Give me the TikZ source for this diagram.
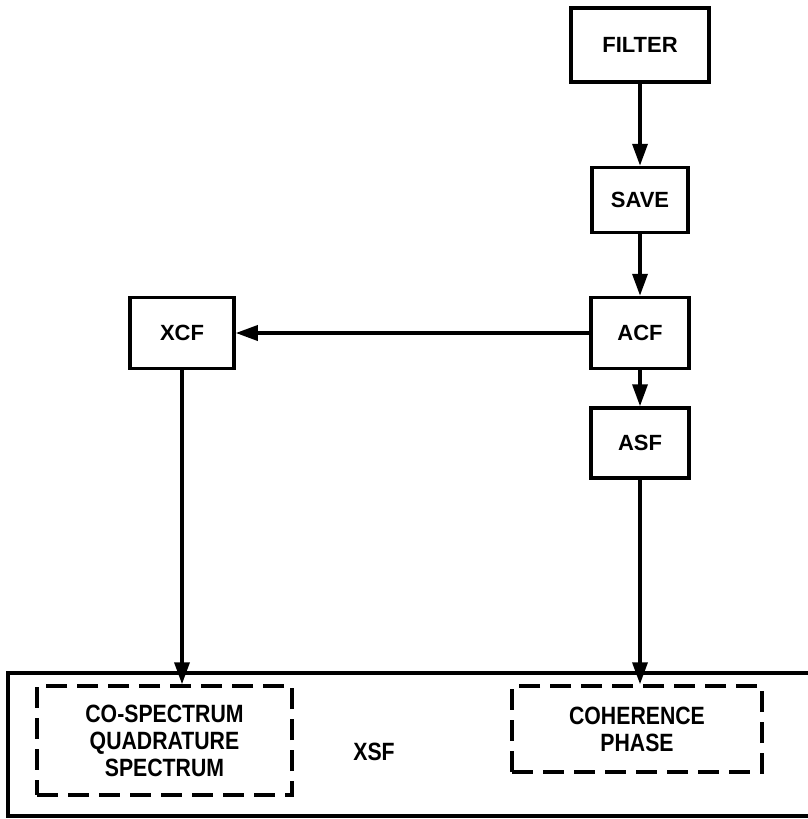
\documentclass[tikz,border=0pt]{standalone}
\usepackage{fontspec}
\setmainfont{Liberation Sans}
\newfontfamily\narrowsf[FakeStretch=0.85]{Liberation Sans}
\usetikzlibrary{arrows.meta,positioning}

\begin{document}
\begin{tikzpicture}[x=1pt,y=-1pt,
  every node/.style={draw,line width=3.5pt,align=center,inner sep=0pt,
    font=\fontsize{22}{26}\selectfont\bfseries},
  sub/.style={dash pattern=on 21pt off 10pt,
    font=\narrowsf\bfseries\fontsize{25}{27}\selectfont},
  flow/.style={line width=3.5pt,-{Triangle[length=22pt,width=15pt]}}]

  \useasboundingbox (0,0) rectangle (807,819);

  % Right column
  \node[minimum width=138pt,minimum height=74pt] (filter) at (640,45) {FILTER};
  \node[minimum width=96pt,minimum height=65pt] (save) at (640,200) {SAVE};
  \node[minimum width=98pt,minimum height=71pt] (acf) at (640,333) {ACF};
  \node[minimum width=98pt,minimum height=70pt] (asf) at (640,443) {ASF};

  % Left column
  \node[minimum width=104pt,minimum height=71pt] (xcf) at (182,333) {XCF};

  % XSF block and its parts
  \node[minimum width=822pt,minimum height=143pt] (xsf) at (419,744.5) {};
  \node[sub,minimum width=255pt,minimum height=109pt] (cospec) at (164.5,740.5)
    {CO-SPECTRUM\\QUADRATURE\\SPECTRUM};
  \node[sub,minimum width=250pt,minimum height=86pt] (coher) at (637,729)
    {COHERENCE\\PHASE};
  \node[sub,draw=none] (xsflabel) at (374,752) {XSF};

  \draw[flow] (filter) -- (save);
  \draw[flow] (save) -- (acf);
  \draw[flow] (acf) -- (asf);
  \draw[flow] (acf) -- (xcf);
  \draw[flow] (xcf) -- (xcf |- cospec.north);
  \draw[flow] (asf) -- (asf |- coher.north);
\end{tikzpicture}
\end{document}
